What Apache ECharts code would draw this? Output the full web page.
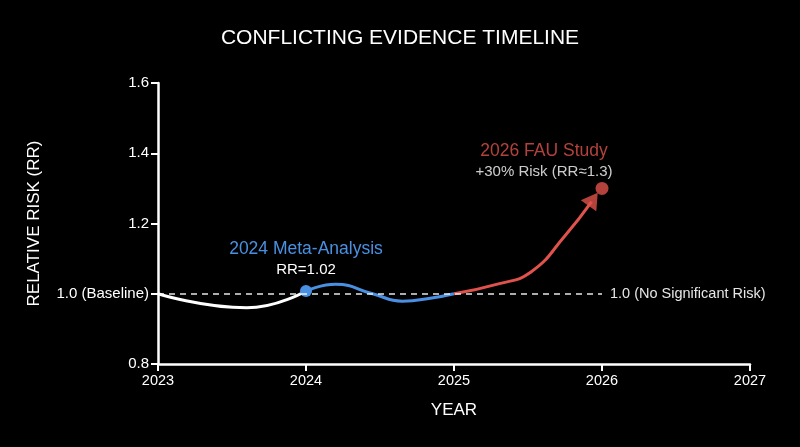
<!DOCTYPE html>
<html>
<head>
<meta charset="utf-8">
<script src="https://cdn.jsdelivr.net/npm/echarts@6/dist/echarts.min.js"></script>
<style>
  html, body { margin: 0; padding: 0; background: #000; }
  #chart { width: 800px; height: 447px; }
</style>
</head>
<body>
<div id="chart"></div>
<script>
// 数据
const xTicks = [2023, 2024, 2025, 2026, 2027];
const baselineData = [[2023, 1.0], [2023.6, 0.96], [2024, 1.008]];
const metaData = [[2024, 1.008], [2024.2, 1.027], [2024.45, 1.0], [2024.65, 0.979], [2024.85, 0.988], [2025, 1.0]];
const fauData = [[2025, 1.0], [2025.3, 1.028], [2025.52, 1.062], [2025.75, 1.165], [2025.93, 1.262]];
const fauPoint = [[2026, 1.3]];
const arrowHead = [[2025.94, 1.269]];
const refLine = [2023, 2026, 1.0];

const WHITE = "#ffffff";
const BLUE = "#4A90E2";
const RED = "#E0524C";
const FONT = "Liberation Sans, Arial, sans-serif";

const chart = echarts.init(document.getElementById("chart"));

const option = {
  backgroundColor: "#000",
  textStyle: { fontFamily: FONT },
  title: {
    text: "CONFLICTING EVIDENCE TIMELINE",
    left: "center",
    top: 23,
    textStyle: { color: WHITE, fontSize: 21, fontWeight: "normal", fontFamily: FONT }
  },
  grid: { left: 158, right: 50, top: 83, bottom: 83 },
  xAxis: {
    type: "value",
    min: xTicks[0],
    max: xTicks[xTicks.length - 1],
    interval: 1,
    name: "YEAR",
    nameLocation: "middle",
    nameGap: 38,
    nameTextStyle: { color: WHITE, fontSize: 17 },
    axisLine: { lineStyle: { color: WHITE, width: 2.5 } },
    axisTick: { show: true, length: 7, lineStyle: { color: WHITE, width: 2 } },
    axisLabel: { color: WHITE, fontSize: 14.5, margin: 9, formatter: (v) => String(v) },
    splitLine: { show: false }
  },
  yAxis: {
    type: "value",
    min: 0.8,
    max: 1.6,
    interval: 0.2,
    name: "RELATIVE RISK (RR)",
    nameLocation: "middle",
    nameGap: 115,
    nameTextStyle: { color: WHITE, fontSize: 17 },
    axisLine: { show: true, lineStyle: { color: WHITE, width: 2.5 } },
    axisTick: { show: true, length: 7, lineStyle: { color: WHITE, width: 2 } },
    axisLabel: {
      color: WHITE,
      fontSize: 15,
      margin: 9,
      formatter: (v) => (Math.abs(v - 1) < 1e-6 ? "1.0 (Baseline)" : v.toFixed(1))
    },
    splitLine: { show: false }
  },
  series: [
    {
      name: "baseline",
      type: "line",
      data: baselineData,
      smooth: 0.5,
      showSymbol: false,
      lineStyle: { color: WHITE, width: 3 },
      z: 3,
      markLine: {
        silent: true,
        symbol: "none",
        lineStyle: { color: WHITE, type: [6, 5], width: 1.5, opacity: 0.9 },
        label: {
          show: true,
          position: "end",
          distance: 8,
          color: WHITE,
          fontSize: 14.5,
          formatter: "1.0 (No Significant Risk)"
        },
        data: [[{ coord: [refLine[0], refLine[2]] }, { coord: [refLine[1], refLine[2]] }]]
      }
    },
    {
      name: "meta",
      type: "line",
      data: metaData.map((d, i) =>
        i === 0
          ? {
              value: d,
              symbol: "circle",
              symbolSize: 12,
              label: {
                show: true,
                position: "top",
                distance: 5,
                formatter: "{a|2024 Meta-Analysis}\n{b|RR=1.02}",
                rich: {
                  a: { color: BLUE, fontSize: 17.5, lineHeight: 22, fontFamily: FONT },
                  b: { color: WHITE, fontSize: 15, lineHeight: 20, fontFamily: FONT }
                }
              }
            }
          : { value: d, symbol: "none" }
      ),
      smooth: true,
      showSymbol: true,
      itemStyle: { color: BLUE },
      lineStyle: { color: BLUE, width: 3 },
      z: 4
    },
    {
      name: "fau",
      type: "line",
      data: fauData,
      smooth: true,
      showSymbol: false,
      lineStyle: { color: RED, width: 3 },
      z: 4
    },
    {
      name: "fauPoint",
      type: "scatter",
      data: fauPoint,
      symbol: "circle",
      symbolSize: 13,
      itemStyle: { color: RED },
      z: 5,
      label: {
        show: true,
        position: "top",
        distance: 0,
        offset: [-58, 0],
        formatter: "{a|2026 FAU Study}\n{b|+30% Risk (RR≈1.3)}",
        rich: {
          a: { color: RED, fontSize: 17.5, lineHeight: 22, fontFamily: FONT },
          b: { color: WHITE, fontSize: 15, lineHeight: 20, fontFamily: FONT }
        }
      }
    },
    {
      name: "arrow",
      type: "scatter",
      data: arrowHead,
      symbol: "triangle",
      symbolSize: [19, 16],
      symbolRotate: -35,
      itemStyle: { color: RED },
      z: 6,
      silent: true
    }
  ]
};

chart.setOption(option);
</script>
</body>
</html>
